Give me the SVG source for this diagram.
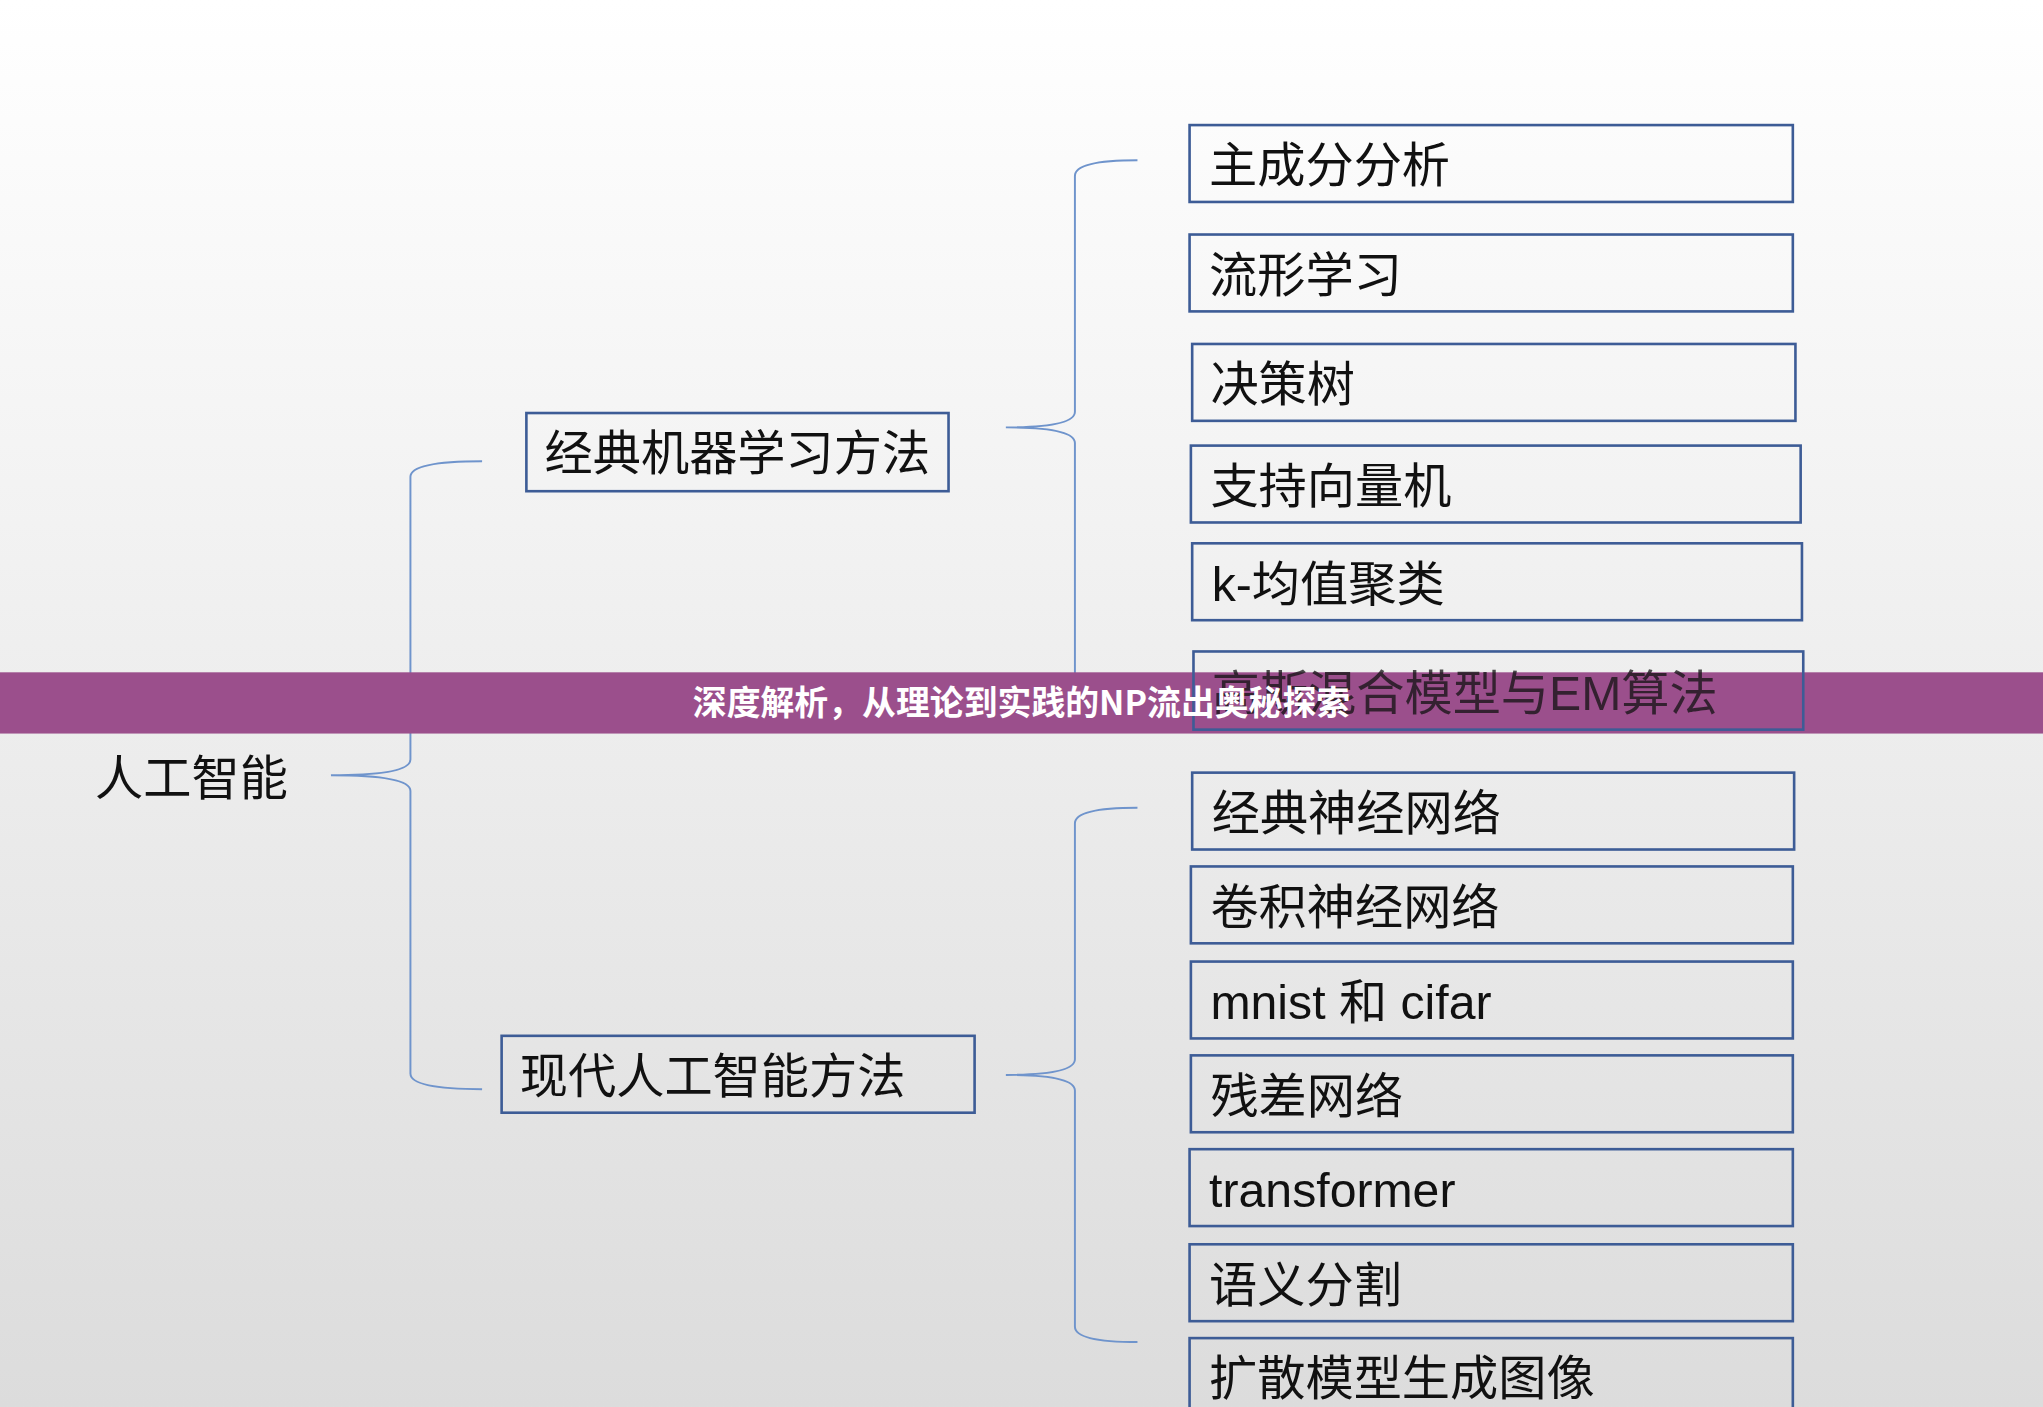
<svg xmlns="http://www.w3.org/2000/svg" width="2043" height="1407" viewBox="0 0 2043 1407">
<defs>
<linearGradient id="bg" x1="0" y1="0" x2="0" y2="1"><stop offset="0" stop-color="#ffffff"/><stop offset="1" stop-color="#dcdcdc"/></linearGradient>
<style>
.b{fill:none;stroke:#3d5c96;stroke-width:2}
.t{font-family:"Liberation Sans","Noto Sans CJK SC",sans-serif;font-size:37px;fill:#111}
.br{fill:none;stroke:#6f94cc;stroke-width:1.5}
</style>
</defs>
<rect width="2043" height="1407" fill="url(#bg)"/>
<g transform="scale(1.30293)">
<g id="connectors">
<path class="br" d="M370,354 Q315,354 315,366 L315,583 Q315,595 254,595 Q315,595 315,607 L315,824 Q315,836 370,836"/>
<path class="br" d="M873,123 Q825,123 825,135 L825,316 Q825,328 772,328 Q825,328 825,340 L825,540"/>
<path class="br" d="M873,620 Q825,620 825,632 L825,813 Q825,825 772,825 Q825,825 825,837 L825,1018 Q825,1030 873,1030"/>
</g>
<rect id="bannerbar" x="0" y="516" width="1568" height="47" fill="#9b4f8c"/>
<g id="root"><text class="t" x="73" y="610">人工智能</text></g>
<g id="m1"><rect class="b" x="404" y="317" width="324" height="60"/><text class="t" x="418" y="361">经典机器学习方法</text></g>
<g id="m2"><rect class="b" x="385" y="795" width="363" height="59"/><text class="t" x="399" y="839">现代人工智能方法</text></g>
<g id="n1"><rect class="b" x="913" y="96" width="463" height="59"/><text class="t" x="928" y="140">主成分分析</text></g>
<g id="n2"><rect class="b" x="913" y="180" width="463" height="59"/><text class="t" x="928" y="224">流形学习</text></g>
<g id="n3"><rect class="b" x="915" y="264" width="463" height="59"/><text class="t" x="929" y="308">决策树</text></g>
<g id="n4"><rect class="b" x="914" y="342" width="468" height="59"/><text class="t" x="929" y="386">支持向量机</text></g>
<g id="n5"><rect class="b" x="915" y="417" width="468" height="59"/><text class="t" x="930" y="461">k-均值聚类</text></g>
<g id="n6"><rect class="b" x="916" y="500" width="468" height="60"/><text class="t" x="930" y="545" fill-opacity="0.75">高斯混合模型与EM算法</text></g>
<g id="n7"><rect class="b" x="915" y="593" width="462" height="59"/><text class="t" x="930" y="637">经典神经网络</text></g>
<g id="n8"><rect class="b" x="914" y="665" width="462" height="59"/><text class="t" x="929" y="709">卷积神经网络</text></g>
<g id="n9"><rect class="b" x="914" y="738" width="462" height="59"/><text class="t" x="929" y="782">mnist 和 cifar</text></g>
<g id="n10"><rect class="b" x="914" y="810" width="462" height="59"/><text class="t" x="929" y="854">残差网络</text></g>
<g id="n11"><rect class="b" x="913" y="882" width="463" height="59"/><text class="t" x="928" y="926">transformer</text></g>
<g id="n12"><rect class="b" x="913" y="955" width="463" height="59"/><text class="t" x="928" y="999">语义分割</text></g>
<g id="n13"><rect class="b" x="913" y="1027" width="463" height="59"/><text class="t" x="928" y="1071">扩散模型生成图像</text></g>
<text id="bannertext" x="784" y="549" text-anchor="middle" font-family="'Noto Sans CJK SC','Liberation Sans',sans-serif" font-size="26" font-weight="bold" fill="#fff">深度解析，从理论到实践的NP流出奥秘探索</text>
</g>
</svg>
